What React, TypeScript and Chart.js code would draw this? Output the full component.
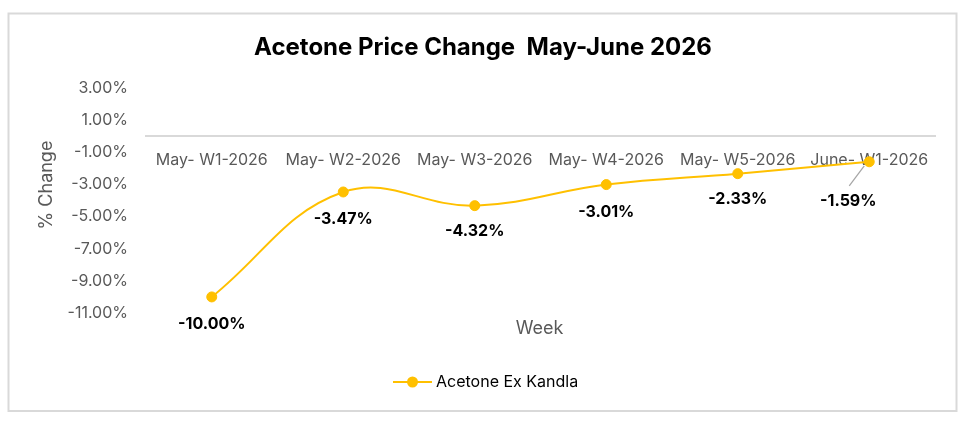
import React, { useEffect, useRef } from "react";
import { Chart, registerables } from "chart.js";

Chart.register(...registerables);

// Weekly price change (%) for Acetone Ex Kandla
const weeks = ["May- W1-2026", "May- W2-2026", "May- W3-2026", "May- W4-2026", "May- W5-2026", "June- W1-2026"];
const changePct = [-10.0, -3.47, -4.32, -3.01, -2.33, -1.59];
const seriesName = "Acetone Ex Kandla";
const chartTitle = "Acetone Price Change  May-June 2026";
const yAxisTitle = "% Change";
const xAxisTitle = "Week";
const yMin = -11;
const yMax = 3;
const yStep = 2;

const GOLD = "#FFC000";
const AXIS_GREY = "#595959";
const FONT = "Inter, 'Noto Sans', sans-serif";

// Where each value label sits relative to its point
const labelPlacement = [
  { dx: 0, dy: 27, leader: false },
  { dx: 0, dy: 27, leader: false },
  { dx: 0, dy: 26, leader: false },
  { dx: 0, dy: 28, leader: false },
  { dx: 0, dy: 26, leader: false },
  { dx: -21, dy: 39, leader: true },
];

const decorations = {
  id: "decorations",
  beforeDraw(chart: Chart) {
    const { ctx } = chart;
    ctx.save();
    ctx.fillStyle = "#ffffff";
    ctx.fillRect(0, 0, chart.width, chart.height);
    ctx.strokeStyle = "#d9d9d9";
    ctx.lineWidth = 2;
    ctx.strokeRect(8.5, 13.5, 948, 397.5);
    ctx.restore();
  },
  afterDraw(chart: Chart) {
    const { ctx, chartArea } = chart;
    ctx.save();

    // title
    ctx.fillStyle = "#000000";
    ctx.font = `bold 24px ${FONT}`;
    ctx.textAlign = "center";
    ctx.textBaseline = "alphabetic";
    ctx.fillText(chartTitle, 483, 55);

    // axis titles
    ctx.fillStyle = AXIS_GREY;
    ctx.font = `18px ${FONT}`;
    ctx.textBaseline = "middle";
    ctx.fillText(xAxisTitle, (chartArea.left + chartArea.right) / 2 - 1, chartArea.bottom + 16);
    ctx.save();
    ctx.translate(47, 185);
    ctx.rotate(-Math.PI / 2);
    ctx.fillText(yAxisTitle, 0, 0);
    ctx.restore();

    // legend
    const ds = chart.data.datasets[0];
    const ly = 382;
    ctx.strokeStyle = GOLD;
    ctx.lineWidth = 2;
    ctx.beginPath();
    ctx.moveTo(393, ly);
    ctx.lineTo(432, ly);
    ctx.stroke();
    ctx.fillStyle = GOLD;
    ctx.beginPath();
    ctx.arc(412.5, ly, 5.5, 0, Math.PI * 2);
    ctx.fill();
    ctx.fillStyle = "#000000";
    ctx.font = `16px ${FONT}`;
    ctx.textAlign = "left";
    ctx.fillText(String(ds.label), 436, ly);

    ctx.restore();
  },
  afterDatasetsDraw(chart: Chart) {
    const { ctx } = chart;
    const meta = chart.getDatasetMeta(0);
    const values = chart.data.datasets[0].data as number[];
    ctx.save();
    ctx.font = `bold 16px ${FONT}`;
    ctx.textAlign = "center";
    ctx.textBaseline = "middle";
    meta.data.forEach((pt: any, i: number) => {
      const p = labelPlacement[i];
      const lx = pt.x + p.dx;
      const ly = pt.y + p.dy;
      if (p.leader) {
        ctx.strokeStyle = "#a6a6a6";
        ctx.lineWidth = 1.25;
        ctx.beginPath();
        ctx.moveTo(lx + 1, ly - 15);
        ctx.lineTo(pt.x - 5, pt.y + 4);
        ctx.stroke();
      }
      ctx.fillStyle = "#000000";
      ctx.fillText(values[i].toFixed(2) + "%", lx, ly);
    });
    ctx.restore();
  },
};

export default function App() {
  const canvasRef = useRef<HTMLCanvasElement>(null);

  useEffect(() => {
    const canvas = canvasRef.current;
    if (!canvas) return;
    const chart = new Chart(canvas, {
      type: "line",
      data: {
        labels: weeks,
        datasets: [
          {
            label: seriesName,
            data: changePct,
            borderColor: GOLD,
            backgroundColor: GOLD,
            borderWidth: 2,
            pointRadius: 5,
            pointBackgroundColor: GOLD,
            pointBorderColor: GOLD,
            pointBorderWidth: 1,
            tension: 0.4,
            fill: false,
          },
        ],
      },
      options: {
        responsive: false,
        animation: false,
        events: [],
        layout: { padding: { left: 9, right: 35, top: 88, bottom: 112 } },
        plugins: {
          legend: { display: false },
          title: { display: false },
          tooltip: { enabled: false },
        },
        scales: {
          y: {
            type: "linear",
            min: yMin,
            max: yMax,
            afterFit: (scale: any) => {
              scale.width = 137;
            },
            grid: { display: false, drawTicks: false },
            border: { display: false },
            ticks: {
              stepSize: yStep,
              padding: 18,
              color: AXIS_GREY,
              font: { family: FONT, size: 16 },
              callback: (v: any) => Number(v).toFixed(2) + "%",
            },
          },
          x: {
            type: "category",
            position: { y: 0 } as any,
            offset: true,
            grid: { display: false, drawTicks: false },
            border: { display: true, color: "#d9d9d9", width: 2 },
            ticks: {
              padding: 14,
              color: AXIS_GREY,
              font: { family: FONT, size: 16 },
              maxRotation: 0,
              autoSkip: false,
            },
          },
        },
      },
      plugins: [decorations],
    });
    return () => chart.destroy();
  }, []);

  return (
    <div style={{ position: "fixed", left: 0, top: 0, width: 970, height: 425, background: "#ffffff" }}>
      <canvas ref={canvasRef} width={970} height={425} style={{ display: "block" }} />
    </div>
  );
}
